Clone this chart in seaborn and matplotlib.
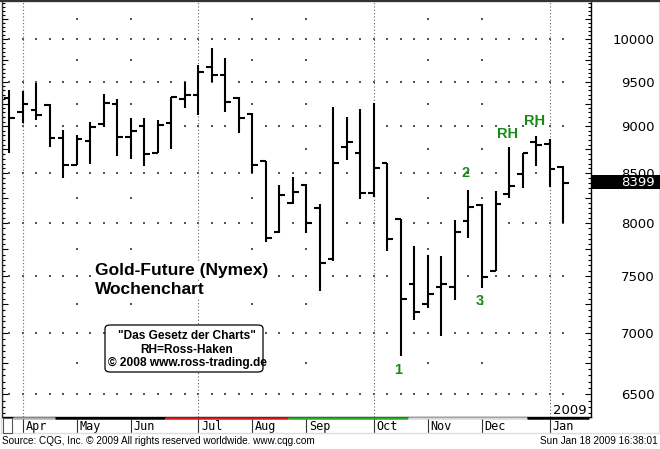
import matplotlib
matplotlib.use('Agg')
import matplotlib.pyplot as plt
import seaborn as sns
import pandas as pd
import numpy as np
from matplotlib.patches import Rectangle, FancyBboxPatch
from matplotlib.lines import Line2D
from matplotlib.ticker import FixedLocator, FuncFormatter, NullFormatter

# weekly OHLC, gold future (Nymex), price x10 as shown by CQG
opens = [9316, 9152, 9178, 9237, 8871, 8588, 8836, 9023, 9245, 8879, 9005, 8714, 9031, 9301,
         9350, 9666, 9573, 9309, 9133, 8625, 7918, 8198, 8384, 8146, 7660, 8778, 8714, 8295,
         8604, 8038, 7428, 7253, 7401, 7401, 8024, 8178, 7552, 8285, 8492, 8831, 8807, 8566]
highs = [9403, 9395, 9487, 9245, 8958, 8900, 9048, 9354, 9304, 9086, 9086, 9067, 9327, 9495,
         9693, 9891, 9772, 9327, 9148, 8630, 8379, 8464, 8389, 8188, 9215, 9104, 9192, 9253,
         8609, 8038, 7784, 7697, 7688, 8031, 8329, 8188, 8319, 8778, 8714, 8893, 8857, 8575]
lows = [8708, 9037, 9067, 8772, 8454, 8582, 8596, 8994, 8683, 8648, 8578, 8708, 8754, 9197,
        9119, 9492, 9156, 8928, 8505, 7816, 7902, 8185, 7902, 7368, 7644, 8637, 8235, 8261,
        7737, 6809, 7113, 7215, 6979, 7288, 7855, 7392, 7552, 8245, 8346, 8575, 8356, 8005]
closes = [9086, 9242, 9119, 8871, 8582, 8864, 8994, 9259, 8879, 8947, 8704, 9012, 9320, 9346,
          9611, 9573, 9267, 9089, 8588, 7855, 8278, 8311, 7999, 7620, 8609, 8831, 8295, 8551,
          7845, 7299, 7180, 7341, 7431, 7918, 8161, 7497, 8188, 8369, 8708, 8793, 8544, 8399]

month_names = ['Apr', 'May', 'Jun', 'Jul', 'Aug', 'Sep', 'Oct', 'Nov', 'Dec', 'Jan']
month_start = [1, 5, 9, 14, 18, 22, 27, 31, 35, 40]
quarter_months = ['Apr', 'Jul', 'Oct', 'Jan']

price_levels = [6500, 7000, 7500, 8000, 8500, 9000, 9500, 10000]
minor_levels = [6750, 7250, 7750, 8250, 8750, 9250, 9750, 10250]

band_edges = [0.27, 3.4, 11.5, 20.6, 29.5, 38.3, 42.9]
band_colors = ['#b0b0b0', 'black', '#d81818', '#20b020', '#d8d8d8', 'black']

note_labels = ['1', '2', '3', 'RH', 'RH']
note_bar = [28.8, 33.8, 34.8, 36.9, 38.9]
note_price = [6694, 8503, 7279, 8914, 9056]

df = pd.DataFrame({'open': opens, 'high': highs, 'low': lows, 'close': closes})
df['week'] = np.arange(len(df))

sns.set_style('white')
plt.rcParams['font.family'] = ['DejaVu Sans']
plt.rcParams['text.color'] = 'black'
plt.rcParams['ytick.color'] = 'black'
plt.rcParams['ytick.labelcolor'] = 'black'

W, H = 660, 449
fig = plt.figure(figsize=(6.6, 4.49), dpi=100)


def fx(x):
    return x / W


def fy(y):
    return 1 - y / H


# outer frame
fig.add_artist(Rectangle((fx(0.5), fy(433)), fx(658.5) - fx(0.5), fy(0.5) - fy(433),
                         transform=fig.transFigure, fc='none', ec='#cfe6cf', lw=1))
fig.add_artist(Line2D([0, 1], [fy(0.8), fy(0.8)], color='#333333', lw=1.6))

ax = fig.add_axes([fx(2), fy(416.7), fx(591) - fx(2), fy(2) - fy(416.7)])
ax.set_yscale('log')
ax.set_xlim(-0.54, 43.07)
ax.set_ylim(6325, 10463)
ax.set_facecolor('white')

# dotted grid
gx = [w for lvl in price_levels for w in df['week']]
gy = [lvl for lvl in price_levels for w in df['week']]
sns.scatterplot(x=gx, y=gy, ax=ax, marker='s', s=1.6, color='#555555', linewidth=0, zorder=1)
mx = [m for lvl in minor_levels for m, n in zip(month_start, month_names) if n not in quarter_months]
my = [lvl for lvl in minor_levels for m, n in zip(month_start, month_names) if n not in quarter_months]
sns.scatterplot(x=mx, y=my, ax=ax, marker='s', s=1.6, color='#555555', linewidth=0, zorder=1)
for m, n in zip(month_start, month_names):
    if n in quarter_months:
        ax.axvline(m, color='#666666', lw=0.8, ls=(0, (1, 2)), zorder=1)

# OHLC bars
ax.vlines(df['week'], df['low'], df['high'], color='black', lw=1.5, zorder=3)
ax.hlines(df['open'], df['week'] - 0.42, df['week'], color='black', lw=1.5, zorder=3)
ax.hlines(df['close'], df['week'], df['week'] + 0.42, color='black', lw=1.5, zorder=3)

for lab, b, p in zip(note_labels, note_bar, note_price):
    ax.text(b, p, lab, color='#168c16', fontsize=10.5, weight='bold',
            family='Liberation Sans', ha='center', va='center')

# axes / ticks
ax.set_xticks([])
ax.yaxis.set_major_locator(FixedLocator(list(np.arange(6500, 10300, 250))))
ax.yaxis.set_minor_locator(FixedLocator(list(np.arange(6350, 10460, 50))))
ax.yaxis.set_major_formatter(FuncFormatter(lambda v, pos: f'{int(v)}' if int(v) % 500 == 0 else ''))
ax.yaxis.set_minor_formatter(NullFormatter())
ax.tick_params(axis='y', which='both', direction='in', left=True, right=True,
               labelleft=False, labelright=True, color='black', width=0.8)
ax.tick_params(axis='y', which='major', length=4, pad=46, labelsize=9.5)
ax.tick_params(axis='y', which='minor', length=2)
for t in ax.get_yticklabels():
    t.set_horizontalalignment('right')
for s in ['left', 'right', 'bottom']:
    ax.spines[s].set_color('black')
    ax.spines[s].set_linewidth(1)
ax.spines['top'].set_visible(False)

ax.text(fx(587), fy(410), '2009', transform=fig.transFigure, ha='right', va='center', fontsize=9.5)

# month strip
ax2 = fig.add_axes([fx(2), fy(433), fx(591) - fx(2), fy(416.7) - fy(433)])
ax2.set_xlim(ax.get_xlim())
ax2.set_ylim(0, 1)
ax2.axis('off')
for e0, e1, c in zip(band_edges[:-1], band_edges[1:], band_colors):
    ax2.hlines(0.92, e0, e1, color=c, lw=1.8)
ax2.vlines(month_start, 0, 0.88, color='#333333', lw=0.8)
for m, n in zip(month_start, month_names):
    ax2.text(m + 0.2, 0.42, n, family='DejaVu Sans Mono', fontsize=8.5, va='center', ha='left')
fig.add_artist(Rectangle((fx(3), fy(433)), fx(12) - fx(3), fy(418) - fy(433),
                         transform=fig.transFigure, fc='white', ec='#555555', lw=0.8))

# last price box
ydisp = ax.transData.transform((0, closes[-1]))[1]
yc = ydisp / fig.bbox.height + 1 / H
fig.add_artist(Rectangle((fx(591), yc - 6.6 / H), 1 - fx(591), 13.2 / H,
                         transform=fig.transFigure, fc='black', ec='none', zorder=5))
fig.text(fx(655), yc, str(closes[-1]), color='white', ha='right', va='center',
         fontsize=9.5, zorder=6)

# chart texts
title_box = dict(facecolor='white', edgecolor='none', pad=1)
fig.text(fx(95), fy(270), 'Gold-Future (Nymex)', family='Liberation Sans', weight='bold',
         fontsize=12.5, va='center', bbox=title_box)
fig.text(fx(95), fy(290), 'Wochenchart', family='Liberation Sans', weight='bold',
         fontsize=12.5, va='center', bbox=title_box)
fig.add_artist(FancyBboxPatch((fx(105), fy(372)), fx(263) - fx(105), fy(325) - fy(372),
                              boxstyle='round,pad=0,rounding_size=0.008',
                              transform=fig.transFigure, fc='white', ec='black', lw=0.9, zorder=4))
box_lines = ['"Das Gesetz der Charts"', 'RH=Ross-Haken', '© 2008 www.ross-trading.de']
for txt, yy in zip(box_lines, [336, 350, 363]):
    fig.text(fx(187), fy(yy), txt, family='Liberation Sans', weight='bold', fontsize=8.6,
             ha='center', va='center', zorder=5)

fig.text(fx(2), fy(441.5), 'Source: CQG, Inc. © 2009 All rights reserved worldwide. www.cqg.com',
         family='Liberation Sans', fontsize=7.2, va='center')
fig.text(fx(658), fy(441.5), 'Sun Jan 18 2009 16:38:01', family='Liberation Sans',
         fontsize=7.2, ha='right', va='center')

fig.savefig('out.png', dpi=100)
